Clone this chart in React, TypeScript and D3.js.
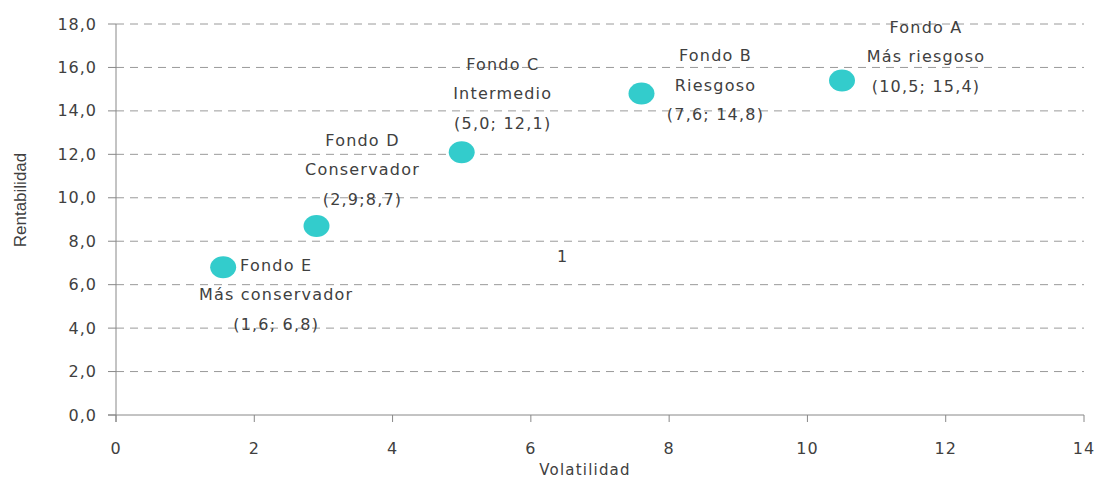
import React from 'react';
import * as d3 from 'd3';

const funds = ['Fondo A', 'Fondo B', 'Fondo C', 'Fondo D', 'Fondo E'];
const profiles = ['Más riesgoso', 'Riesgoso', 'Intermedio', 'Conservador', 'Más conservador'];
const volatility = [10.5, 7.6, 5.0, 2.9, 1.55];
const returns = [15.4, 14.8, 12.1, 8.7, 6.8];
const valueLabels = ['(10,5; 15,4)', '(7,6; 14,8)', '(5,0; 12,1)', '(2,9;8,7)', '(1,6; 6,8)'];
const xTicks = [0, 2, 4, 6, 8, 10, 12, 14];
const yTicks = [0, 2, 4, 6, 8, 10, 12, 14, 16, 18];
const strayLabel = { x: 6.45, y: 7.3, text: '1' };

// label placement offsets (px) relative to each marker
const labelOffsets = [
  [84, -53],
  [74, -38],
  [41, -88],
  [46, -86],
  [53, -2],
];

const W = 1099;
const H = 483;
const left = 116;
const right = 1084;
const top = 24;
const bottom = 415;

const FONT = '"DejaVu Sans", Verdana, sans-serif';
const TEXT = '#404040';

export default function App() {
  const x = d3.scaleLinear().domain([0, 14]).range([left, right]);
  const y = d3.scaleLinear().domain([0, 18]).range([bottom, top]);
  const fmt = (v: number) => d3.format('.1f')(v).replace('.', ',');

  return (
    <svg width={W} height={H} style={{ position: 'absolute', left: 0, top: 0, background: '#fff' }}>
      {/* gridlines */}
      {yTicks.filter((t) => t > 0).map((t) => (
        <line key={'g' + t} x1={left} x2={right} y1={y(t)} y2={y(t)} stroke="#9a9a9a" strokeWidth={1} strokeDasharray="8,6" />
      ))}
      {/* y ticks */}
      {yTicks.map((t) => (
        <g key={'yt' + t}>
          <line x1={left - 8} x2={left} y1={y(t)} y2={y(t)} stroke="#888" />
          <text x={97} y={y(t)} textAnchor="end" dominantBaseline="central" fontFamily={FONT} fontSize={16} letterSpacing={1} fill={TEXT}>
            {fmt(t)}
          </text>
        </g>
      ))}
      {/* x ticks */}
      {xTicks.map((t) => (
        <g key={'xt' + t}>
          <line x1={x(t)} x2={x(t)} y1={bottom} y2={bottom + 7} stroke="#888" />
          <text x={x(t)} y={448} textAnchor="middle" dominantBaseline="central" fontFamily={FONT} fontSize={16} letterSpacing={1} fill={TEXT}>
            {t}
          </text>
        </g>
      ))}
      {/* axes */}
      <line x1={left} x2={left} y1={top} y2={bottom + 7} stroke="#888" />
      <line x1={left - 8} x2={right} y1={bottom} y2={bottom} stroke="#888" />

      {/* axis titles */}
      <text x={585} y={470} textAnchor="middle" dominantBaseline="central" fontFamily={FONT} fontSize={15} letterSpacing={1.2} fill={TEXT}>
        Volatilidad
      </text>
      <text transform="translate(20,200) rotate(-90)" textAnchor="middle" dominantBaseline="central" fontFamily='"Liberation Sans", Arial, sans-serif' fontSize={17} fill={TEXT}>
        Rentabilidad
      </text>

      {/* markers */}
      {funds.map((f, i) => (
        <ellipse key={'m' + f} cx={x(volatility[i])} cy={y(returns[i])} rx={13} ry={11} fill="#33CCCC" />
      ))}

      {/* data labels */}
      {funds.map((f, i) => {
        const cx = x(volatility[i]) + labelOffsets[i][0];
        const cy = y(returns[i]) + labelOffsets[i][1];
        const lines = [f, profiles[i], valueLabels[i]];
        return (
          <g key={'l' + f}>
            {lines.map((ln, j) => (
              <text key={j} x={cx} y={cy + j * 29.5} textAnchor="middle" dominantBaseline="central" fontFamily={FONT} fontSize={16} letterSpacing={1.2} fill={TEXT}>
                {ln}
              </text>
            ))}
          </g>
        );
      })}

      <text x={x(strayLabel.x)} y={y(strayLabel.y)} textAnchor="middle" dominantBaseline="central" fontFamily={FONT} fontSize={16} fill={TEXT}>
        {strayLabel.text}
      </text>
    </svg>
  );
}
